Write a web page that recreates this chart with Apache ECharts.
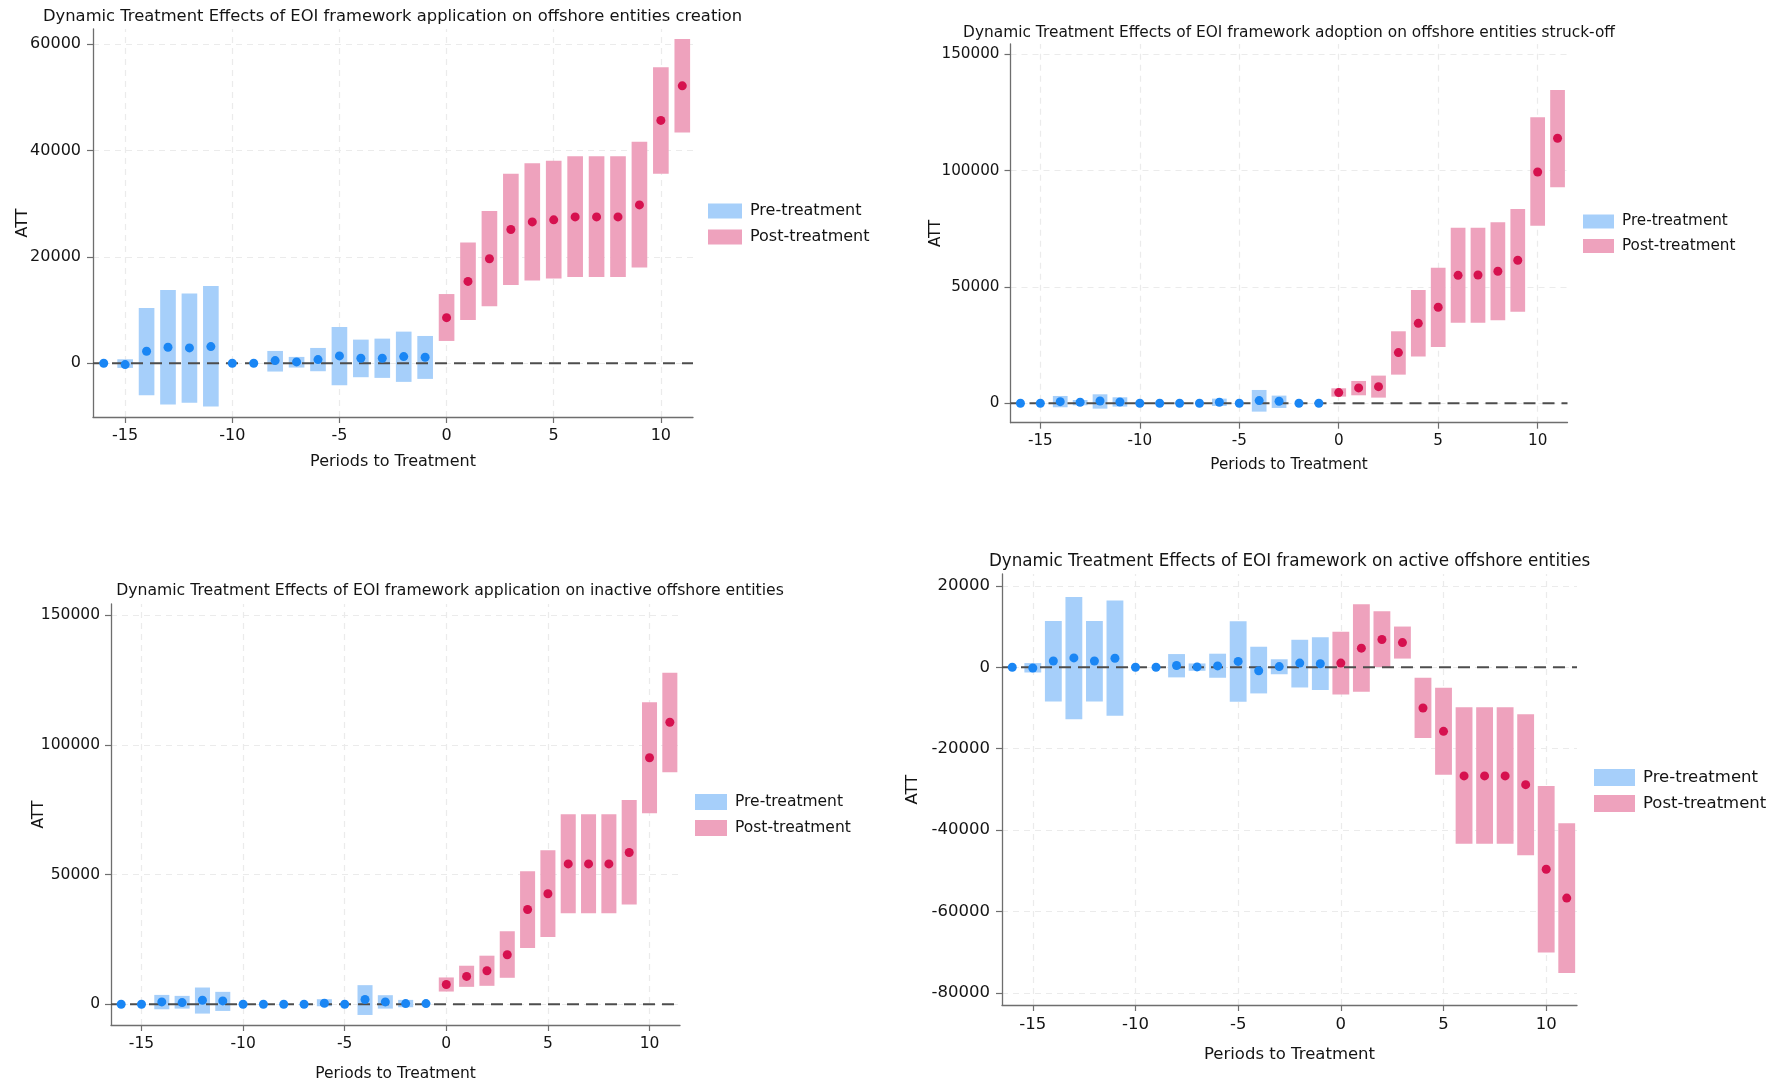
<!DOCTYPE html>
<html>
<head>
<meta charset="utf-8">
<title>Dynamic Treatment Effects of EOI framework</title>
<script src="https://cdn.jsdelivr.net/npm/echarts@6/dist/echarts.min.js"></script>
<style>
  html, body { margin: 0; padding: 0; background: #ffffff; }
  #chart { width: 1787px; height: 1086px; }
</style>
</head>
<body>
<div id="chart"></div>
<script>
// Event-study periods
const prePeriods = [-16, -15, -14, -13, -12, -11, -10, -9, -8, -7, -6, -5, -4, -3, -2, -1];
const postPeriods = [0, 1, 2, 3, 4, 5, 6, 7, 8, 9, 10, 11];
const xTickValues = [-15, -10, -5, 0, 5, 10];

// Panel A: offshore entities creation
const creationPreEst = [0, -250, 2250, 3000, 2875, 3125, 0, 0, 500, 250, 690, 1375, 940, 940, 1250, 1125];
const creationPreLo = [null, -875, -6000, -7750, -7440, -8125, null, null, -1560, -810, -1500, -4125, -2625, -2750, -3500, -2940];
const creationPreHi = [null, 750, 10375, 13750, 13125, 14500, null, null, 2310, 1190, 2875, 6810, 4440, 4625, 5940, 5125];
const creationPostEst = [8560, 15375, 19625, 25125, 26560, 26940, 27500, 27500, 27500, 29750, 45625, 52125];
const creationPostLo = [4190, 8125, 10690, 14690, 15560, 15940, 16190, 16190, 16190, 18000, 35625, 43375];
const creationPostHi = [13000, 22690, 28625, 35625, 37560, 38060, 38875, 38875, 38875, 41625, 55625, 60940];
const creationYTicks = [0, 20000, 40000, 60000];

// Panel B: offshore entities struck-off
const struckPreEst = [0, 0, 700, 430, 1000, 570, 0, 0, 0, 0, 430, 0, 1150, 860, 0, 0];
const struckPreLo = [null, null, -1700, -860, -2300, -1430, null, null, null, null, -1150, null, -3580, -2000, null, null];
const struckPreHi = [null, null, 3150, 1430, 3870, 2580, null, null, null, null, 2000, null, 5730, 3300, null, null];
const struckPostEst = [4600, 6600, 7160, 21780, 34380, 41260, 55000, 55160, 56740, 61460, 99430, 113900];
const struckPostLo = [2870, 3440, 2440, 12320, 20060, 24200, 34670, 34670, 35670, 39400, 76360, 92840];
const struckPostHi = [6450, 9600, 11900, 30950, 48700, 58300, 75500, 75500, 77800, 83530, 122900, 134700];
const struckYTicks = [0, 50000, 100000, 150000];

// Panel C: inactive offshore entities
const inactivePreEst = [0, 0, 900, 650, 1550, 1290, 0, 0, 0, 0, 390, 0, 1810, 900, 260, 260];
const inactivePreLo = [null, null, -1940, -1680, -3600, -2580, null, null, null, null, -770, null, -4130, -1680, -1160, null];
const inactivePreHi = [null, null, 3600, 3230, 6450, 4780, null, null, null, null, 1940, null, 7360, 3490, 1680, null];
const inactivePostEst = [7620, 10720, 12910, 19100, 36530, 42600, 54090, 54090, 54090, 58480, 95020, 108700];
const inactivePostLo = [4900, 6710, 7100, 10200, 21690, 25950, 35110, 35110, 35110, 38470, 73590, 89460];
const inactivePostHi = [10330, 14850, 18720, 28140, 51250, 59390, 73200, 73200, 73200, 78750, 116450, 127800];
const inactiveYTicks = [0, 50000, 100000, 150000];

// Panel D: active offshore entities
const activePreEst = [0, -170, 1540, 2310, 1540, 2220, 0, 0, 430, 90, 340, 1450, -860, 170, 1030, 860];
const activePreLo = [null, -1280, -8380, -12750, -8380, -11890, null, null, -2480, -860, -2570, -8470, -6420, -1710, -4960, -5560];
const activePreHi = [null, 1030, 11380, 17280, 11380, 16420, null, null, 3250, 940, 3340, 11290, 5050, 1970, 6760, 7360];
const activePostEst = [1030, 4700, 6840, 6070, -10010, -15740, -26690, -26690, -26690, -28830, -49610, -56710];
const activePostLo = [-6670, -5990, 100, 2140, -17370, -26430, -43370, -43370, -43370, -46190, -70060, -75100];
const activePostHi = [8730, 15480, 13770, 10010, -2570, -5050, -9840, -9840, -9840, -11550, -29170, -38320];
const activeYTicks = [-80000, -60000, -40000, -20000, 0, 20000];

const titles = [
  'Dynamic Treatment Effects of EOI framework application on offshore entities creation',
  'Dynamic Treatment Effects of EOI framework adoption on offshore entities struck-off',
  'Dynamic Treatment Effects of EOI framework application on inactive offshore entities',
  'Dynamic Treatment Effects of EOI framework on active offshore entities'
];
const legendNames = ['Pre-treatment', 'Post-treatment'];
const xName = 'Periods to Treatment';
const yName = 'ATT';

// Colours
const PRE_BAND = '#a6cffa';
const POST_BAND = '#eea2bd';
const PRE_DOT = '#1a86f4';
const POST_DOT = '#d6114f';
const AXIS = '#6e6e6e';
const GRIDLINE = '#ebebeb';
const TEXT = '#141414';
const FONT = 'DejaVu Sans';

// Panel geometry (pixels) and axis ranges
const panels = [
  { pre: [creationPreEst, creationPreLo, creationPreHi], post: [creationPostEst, creationPostLo, creationPostHi],
    yTicks: creationYTicks, yMin: -10100, yMax: 62800,
    grid: { left: 93, top: 29, width: 600, height: 388 }, font: 16, titleFont: 16.35, half: 0.365,
    titleX: 392.6, titleTop: 8.5, nameGapX: 37, nameGapY: 62.5, labelMarginY: 12,
    legend: { left: 708, top: 203, w: 34, h: 15, gap: 10 } },
  { pre: [struckPreEst, struckPreLo, struckPreHi], post: [struckPostEst, struckPostLo, struckPostHi],
    yTicks: struckYTicks, yMin: -8340, yMax: 154430,
    grid: { left: 1010.5, top: 44, width: 557, height: 378.7 }, font: 15.2, titleFont: 15.4, half: 0.37,
    titleX: 1289, titleTop: 25, nameGapX: 35, nameGapY: 66.5, labelMarginY: 11,
    legend: { left: 1583, top: 214, w: 31, h: 14, gap: 9.5 } },
  { pre: [inactivePreEst, inactivePreLo, inactivePreHi], post: [inactivePostEst, inactivePostLo, inactivePostHi],
    yTicks: inactiveYTicks, yMin: -8000, yMax: 154300,
    grid: { left: 111, top: 604, width: 569, height: 421 }, font: 15.5, titleFont: 15.66, half: 0.37,
    titleX: 450, titleTop: 583, nameGapX: 41, nameGapY: 64.5, labelMarginY: 11,
    legend: { left: 695, top: 794, w: 32, h: 16, gap: 10 } },
  { pre: [activePreEst, activePreLo, activePreHi], post: [activePostEst, activePostLo, activePostHi],
    yTicks: activeYTicks, yMin: -82970, yMax: 22920,
    grid: { left: 1002, top: 574, width: 575, height: 431 }, font: 16.5, titleFont: 16.75, half: 0.41,
    titleX: 1289.6, titleTop: 553, nameGapX: 41, nameGapY: 81, labelMarginY: 12,
    legend: { left: 1594, top: 769, w: 41, h: 17, gap: 9 } }
];

function bandData(periods, triple) {
  return periods.map((p, i) => [p, triple[1][i], triple[2][i]]);
}
function dotData(periods, triple) {
  return periods.map((p, i) => [p, triple[0][i]]);
}
function bandRenderer(half, fill) {
  return function (params, api) {
    const x = api.value(0), lo = api.value(1), hi = api.value(2);
    if (isNaN(lo) || isNaN(hi)) return null;
    const a = api.coord([x - half, hi]);
    const b = api.coord([x + half, lo]);
    return {
      type: 'rect',
      shape: { x: a[0], y: a[1], width: b[0] - a[0], height: b[1] - a[1] },
      style: { fill: fill }
    };
  };
}
const plainNumber = v => String(v);

const grid = [], xAxis = [], yAxis = [], series = [], title = [], legend = [];

panels.forEach((pn, k) => {
  grid.push(Object.assign({ containLabel: false, outerBoundsMode: 'none' }, pn.grid));

  xAxis.push({
    type: 'value', gridIndex: k, min: -16.5, max: 11.5,
    name: xName, nameLocation: 'middle', nameGap: pn.nameGapX, nameMoveOverlap: false,
    nameTextStyle: { fontFamily: FONT, fontSize: pn.font, color: TEXT },
    axisLine: { show: true, onZero: false, lineStyle: { color: AXIS, width: 1.3 } },
    axisTick: { show: true, length: 6, customValues: xTickValues, lineStyle: { color: AXIS, width: 1.2 } },
    axisLabel: { customValues: xTickValues, margin: 11, fontFamily: FONT, fontSize: pn.font, color: TEXT,
                 formatter: plainNumber },
    splitLine: { show: false }
  });

  yAxis.push({
    type: 'value', gridIndex: k, min: pn.yMin, max: pn.yMax,
    name: yName, nameLocation: 'middle', nameGap: pn.nameGapY, nameMoveOverlap: false,
    nameTextStyle: { fontFamily: FONT, fontSize: pn.font, color: TEXT },
    axisLine: { show: true, onZero: false, lineStyle: { color: AXIS, width: 1.3 } },
    axisTick: { show: true, length: 6, customValues: pn.yTicks, lineStyle: { color: AXIS, width: 1.2 } },
    axisLabel: { customValues: pn.yTicks, margin: pn.labelMarginY, fontFamily: FONT, fontSize: pn.font, color: TEXT,
                 formatter: plainNumber },
    splitLine: { show: false }
  });

  // light dashed reference grid at every labelled tick, kept beneath the bands
  series.push({
    type: 'line', xAxisIndex: k, yAxisIndex: k, data: [], silent: true, z: 0,
    markLine: {
      silent: true, symbol: 'none', label: { show: false }, animation: false, z: 0,
      lineStyle: { color: GRIDLINE, type: [6, 5], width: 1.2 },
      emphasis: { disabled: true },
      data: xTickValues.map(v => ({ xAxis: v })).concat(pn.yTicks.map(v => ({ yAxis: v })))
    }
  });

  series.push({
    name: legendNames[0], type: 'custom', xAxisIndex: k, yAxisIndex: k, z: 2,
    itemStyle: { color: PRE_BAND }, renderItem: bandRenderer(pn.half, PRE_BAND),
    encode: { x: 0, y: [1, 2] }, data: bandData(prePeriods, pn.pre), silent: true
  });
  series.push({
    name: legendNames[1], type: 'custom', xAxisIndex: k, yAxisIndex: k, z: 2,
    itemStyle: { color: POST_BAND }, renderItem: bandRenderer(pn.half, POST_BAND),
    encode: { x: 0, y: [1, 2] }, data: bandData(postPeriods, pn.post), silent: true
  });

  // dashed zero line across the whole plot width
  series.push({
    type: 'line', xAxisIndex: k, yAxisIndex: k, z: 3, silent: true, symbol: 'none',
    lineStyle: { color: '#4d4d4d', width: 2, type: [12, 7] },
    data: [[-16.5, 0], [11.5, 0]]
  });

  series.push({
    name: 'pre-estimate', type: 'scatter', xAxisIndex: k, yAxisIndex: k, z: 4,
    symbol: 'circle', symbolSize: 9, itemStyle: { color: PRE_DOT, opacity: 1 },
    data: dotData(prePeriods, pn.pre), silent: true
  });
  series.push({
    name: 'post-estimate', type: 'scatter', xAxisIndex: k, yAxisIndex: k, z: 4,
    symbol: 'circle', symbolSize: 9, itemStyle: { color: POST_DOT, opacity: 1 },
    data: dotData(postPeriods, pn.post), silent: true
  });

  title.push({
    text: titles[k], left: pn.titleX, top: pn.titleTop,
    textAlign: 'center', padding: 0,
    textStyle: { fontFamily: FONT, fontSize: pn.titleFont, fontWeight: 'normal', color: TEXT }
  });

  legend.push({
    orient: 'vertical', left: pn.legend.left, top: pn.legend.top, padding: 0,
    itemWidth: pn.legend.w, itemHeight: pn.legend.h, itemGap: pn.legend.gap,
    icon: 'rect', selectedMode: false,
    textStyle: { fontFamily: FONT, fontSize: pn.font, color: TEXT, lineHeight: pn.legend.h, padding: [0, 0, 0, 3] },
    data: legendNames.map(n => ({ name: n, itemStyle: { color: n === legendNames[0] ? PRE_BAND : POST_BAND } }))
  });
});

const chart = echarts.init(document.getElementById('chart'), null, { renderer: 'canvas' });
chart.setOption({
  backgroundColor: '#ffffff',
  animation: false,
  textStyle: { fontFamily: FONT },
  title: title,
  legend: legend,
  grid: grid,
  xAxis: xAxis,
  yAxis: yAxis,
  series: series
});
</script>
</body>
</html>
